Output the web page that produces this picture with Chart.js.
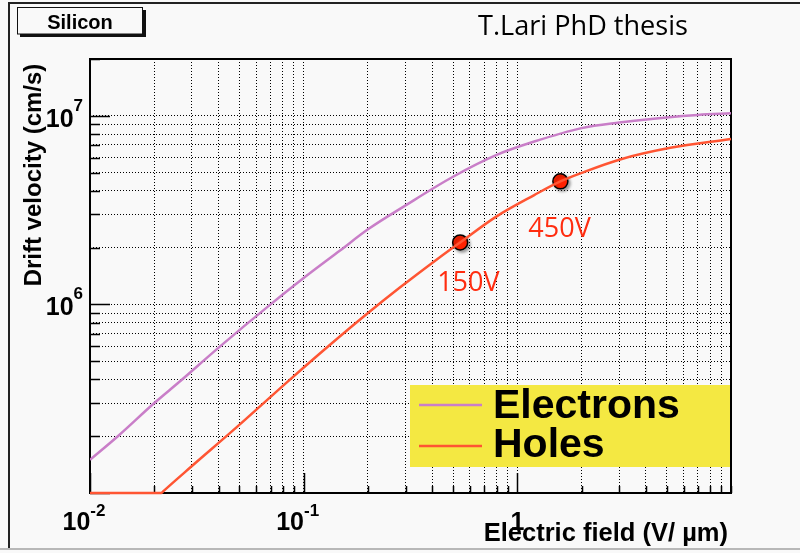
<!DOCTYPE html>
<html>
<head>
<meta charset="utf-8">
<script src="https://cdn.jsdelivr.net/npm/chart.js@4.4.1/dist/chart.umd.min.js"></script>
<style>
  html, body { margin: 0; padding: 0; background: #ffffff; }
  #wrap { width: 800px; height: 553px; position: relative; }
</style>
</head>
<body>
<div id="wrap"><canvas id="driftChart" width="800" height="553"></canvas></div>
<script>
// values (E in V/um, v in cm/s)
const fieldElectrons = [0.01, 0.0135, 0.02, 0.0263, 0.04, 0.07, 0.1, 0.148, 0.2, 0.3, 0.5, 0.8, 1.2, 2, 3, 5, 7, 10];
const velElectrons   = [1.5e5, 2.0e5, 3.0e5, 3.9e5, 5.9e5, 1.0e6, 1.38e6, 1.93e6, 2.5e6, 3.35e6, 4.75e6, 6.2e6, 7.3e6, 8.6e6, 9.2e6, 9.8e6, 1.01e7, 1.03e7];
const fieldHoles = [0.01, 0.0216, 0.022, 0.03, 0.047, 0.086, 0.13, 0.2, 0.28, 0.42, 0.54, 0.8, 1.2, 1.59, 2, 3, 5.2, 10];
const velHoles   = [1.0e5, 1.0e5, 1.02e5, 1.39e5, 2.16e5, 3.98e5, 5.98e5, 9.0e5, 1.22e6, 1.73e6, 2.13e6, 2.93e6, 3.8e6, 4.49e6, 4.98e6, 5.85e6, 6.76e6, 7.53e6];
const markerFields = [0.54, 1.59];
const markerVels   = [2.13e6, 4.49e6];
const markerLabels = ['150V', '450V'];
const seriesNames  = ['Electrons', 'Holes'];

// axis ranges and tick labels
const xRange = [0.01, 10];
const yRange = [1e5, 2e7];
const xDecades = [0.01, 0.1, 1];
const yDecades = [1e5, 1e6, 1e7];
const gridSteps = [1, 2, 3, 4, 5, 6, 7, 8, 9];
const xTickValues = [0.01, 0.1, 1];
const xTickLabels = [['10', '-2'], ['10', '-1'], ['1', '']];
const yTickValues = [1e6, 1e7];
const yTickLabels = [['10', '6'], ['10', '7']];

const COL_E = '#c97ec8';
const COL_H = '#ff5533';
const COL_MARK = '#ff2200';
const COL_TXT_RED = '#ff2d10';
const ROOT_FONT = '"Liberation Sans", Arial, sans-serif';

function logTicks(decades, max) {
    const out = [];
    decades.forEach(d => {
        gridSteps.forEach(m => {
            const v = d * m;
            if (v <= max * 1.0001) out.push({ value: v, major: m === 1 });
        });
    });
    if (!out.some(t => Math.abs(t.value - max) / max < 1e-4)) out.push({ value: max, major: false });
    return out;
}

function drawPow(ctx, base, exp, x, y, align, size, supSize, supRise) {
    ctx.font = 'bold ' + size + 'px ' + ROOT_FONT;
    const wb = ctx.measureText(base).width;
    ctx.font = 'bold ' + supSize + 'px ' + ROOT_FONT;
    const we = exp ? ctx.measureText(exp).width : 0;
    const total = wb + we;
    let start = x;
    if (align === 'center') start = x - total / 2;
    if (align === 'right') start = x - total;
    ctx.textAlign = 'left';
    ctx.textBaseline = 'alphabetic';
    ctx.font = 'bold ' + size + 'px ' + ROOT_FONT;
    ctx.fillText(base, start, y);
    if (exp) {
        ctx.font = 'bold ' + supSize + 'px ' + ROOT_FONT;
        ctx.fillText(exp, start + wb, y - supRise);
    }
}

const decorPlugin = {
    id: 'decor',
    beforeDraw(chart) {
        const ctx = chart.ctx;
        ctx.save();
        ctx.fillStyle = '#f9f9f9';
        ctx.fillRect(0, 0, chart.width, chart.height);
        // slide frame
        ctx.strokeStyle = '#222';
        ctx.lineWidth = 2;
        ctx.beginPath();
        ctx.moveTo(9, 548);
        ctx.lineTo(9, 3);
        ctx.lineTo(chart.width, 3);
        ctx.stroke();
        ctx.strokeStyle = '#b8b8b8';
        ctx.beginPath();
        ctx.moveTo(0, 549);
        ctx.lineTo(chart.width, 549);
        ctx.stroke();

        // "Silicon" title box with shadow
        ctx.fillStyle = '#111';
        ctx.fillRect(20, 10, 126, 27);
        ctx.fillStyle = '#f9f9f9';
        ctx.fillRect(17.5, 7.5, 125, 26.5);
        ctx.strokeStyle = '#111';
        ctx.lineWidth = 1;
        ctx.strokeRect(17.5, 7.5, 125, 26.5);
        ctx.fillStyle = '#000';
        ctx.font = 'bold 20px ' + ROOT_FONT;
        ctx.textAlign = 'center';
        ctx.textBaseline = 'alphabetic';
        ctx.fillText('Silicon', 80, 29);

        ctx.font = '28px "Open Sans", "Noto Sans", sans-serif';
        ctx.textAlign = 'left';
        ctx.fillStyle = '#000';
        ctx.fillText('T.Lari PhD thesis', 478, 35, 210);
        ctx.restore();
    },
    beforeDatasetsDraw(chart) {
        const ctx = chart.ctx;
        const a = chart.chartArea;
        const xs = chart.scales.x;
        const ys = chart.scales.y;
        ctx.save();

        // inner tick marks (ROOT style)
        ctx.strokeStyle = '#000';
        ctx.lineWidth = 1.5;
        ctx.beginPath();
        ys.ticks.forEach(t => {
            const py = Math.round(ys.getPixelForValue(t.value)) + 0.5;
            const len = t.major ? 20 : 10;
            ctx.moveTo(a.left, py);
            ctx.lineTo(a.left + len, py);
        });
        xs.ticks.forEach(t => {
            const px = Math.round(xs.getPixelForValue(t.value)) + 0.5;
            const len = t.major ? 20 : 7;
            ctx.moveTo(px, a.bottom);
            ctx.lineTo(px, a.bottom - len);
        });
        ctx.stroke();

        // legend
        ctx.fillStyle = '#f4e842';
        ctx.fillRect(410, 385, a.right - 410, 82);
        const legRows = [405, 446];
        const legBase = [418, 457];
        chart.data.datasets.slice(0, 2).forEach((ds, i) => {
            ctx.strokeStyle = ds.borderColor;
            ctx.lineWidth = 2.5;
            ctx.beginPath();
            ctx.moveTo(419, legRows[i]);
            ctx.lineTo(482, legRows[i]);
            ctx.stroke();
            ctx.fillStyle = '#000';
            ctx.font = 'bold 41px ' + ROOT_FONT;
            ctx.textAlign = 'left';
            ctx.textBaseline = 'alphabetic';
            ctx.fillText(ds.label, 493, legBase[i]);
        });

        // frame
        ctx.strokeStyle = '#000';
        ctx.lineWidth = 2;
        ctx.strokeRect(a.left, a.top, a.right - a.left, a.bottom - a.top);
        ctx.restore();
    },
    beforeDatasetDraw(chart, args) {
        if (args.index === 2) {
            const ctx = chart.ctx;
            ctx.save();
            ctx.shadowColor = 'rgba(0,0,0,0.35)';
            ctx.shadowBlur = 3;
            ctx.shadowOffsetX = 2;
            ctx.shadowOffsetY = 2;
        }
    },
    afterDatasetDraw(chart, args) {
        if (args.index === 2) chart.ctx.restore();
    },
    afterDraw(chart) {
        const ctx = chart.ctx;
        const xs = chart.scales.x;
        const ys = chart.scales.y;
        ctx.save();

        // tick labels
        ctx.fillStyle = '#000';
        xTickValues.forEach((v, i) => {
            const px = xs.getPixelForValue(v);
            const shift = xTickLabels[i][1] ? -6 : 0;
            drawPow(ctx, xTickLabels[i][0], xTickLabels[i][1], px + shift, 530, 'center', 25, 17, 14);
        });
        yTickValues.forEach((v, i) => {
            const py = ys.getPixelForValue(v);
            drawPow(ctx, yTickLabels[i][0], yTickLabels[i][1], 83, py + 11, 'right', 25, 17, 16);
        });

        // axis titles
        ctx.font = 'bold 25.5px ' + ROOT_FONT;
        ctx.textAlign = 'right';
        ctx.fillText('Electric field (V/ \u00b5m)', 728, 541);
        ctx.save();
        ctx.font = 'bold 24px ' + ROOT_FONT;
        ctx.translate(41, 175);
        ctx.rotate(-Math.PI / 2);
        ctx.textAlign = 'center';
        ctx.fillText('Drift velocity (cm/s)', 0, 0);
        ctx.restore();

        // marker voltage labels
        const offs = [[-23, 49], [-32, 56]];
        const meta = chart.getDatasetMeta(2);
        ctx.fillStyle = COL_TXT_RED;
        ctx.font = '27px "Open Sans", "Noto Sans", sans-serif';
        ctx.textAlign = 'left';
        meta.data.forEach((pt, i) => {
            ctx.fillText(markerLabels[i], pt.x + offs[i][0], pt.y + offs[i][1], 64);
        });
        ctx.restore();
    }
};

const axisCommon = {
    type: 'logarithmic',
    ticks: { display: false },
    grid: { color: '#000', lineWidth: 1, drawTicks: false },
    border: { display: false, dash: [1, 2] },
    title: { display: false }
};

new Chart(document.getElementById('driftChart'), {
    type: 'scatter',
    data: {
        datasets: [
            {
                label: seriesNames[0],
                data: fieldElectrons.map((x, i) => ({ x: x, y: velElectrons[i] })),
                showLine: true,
                borderColor: COL_E,
                borderWidth: 2.5,
                pointRadius: 0,
                cubicInterpolationMode: 'monotone'
            },
            {
                label: seriesNames[1],
                data: fieldHoles.map((x, i) => ({ x: x, y: velHoles[i] })),
                showLine: true,
                borderColor: COL_H,
                borderWidth: 2.5,
                pointRadius: 0,
                cubicInterpolationMode: 'monotone',
                clip: 4
            },
            {
                label: 'bias points',
                data: markerFields.map((x, i) => ({ x: x, y: markerVels[i] })),
                showLine: false,
                pointRadius: 7.5,
                backgroundColor: COL_MARK,
                borderColor: '#000',
                borderWidth: 1.5
            }
        ]
    },
    options: {
        responsive: false,
        animation: false,
        events: [],
        layout: { padding: { left: 90, top: 59, right: 69, bottom: 60 } },
        plugins: { legend: { display: false }, tooltip: { enabled: false } },
        scales: {
            x: Object.assign({}, axisCommon, {
                min: xRange[0], max: xRange[1],
                afterBuildTicks: s => { s.ticks = logTicks(xDecades, xRange[1]); },
                afterFit: s => { s.height = 0; }
            }),
            y: Object.assign({}, axisCommon, {
                min: yRange[0], max: yRange[1],
                afterBuildTicks: s => { s.ticks = logTicks(yDecades, yRange[1]); },
                afterFit: s => { s.width = 0; }
            })
        }
    },
    plugins: [decorPlugin]
});
</script>
</body>
</html>
